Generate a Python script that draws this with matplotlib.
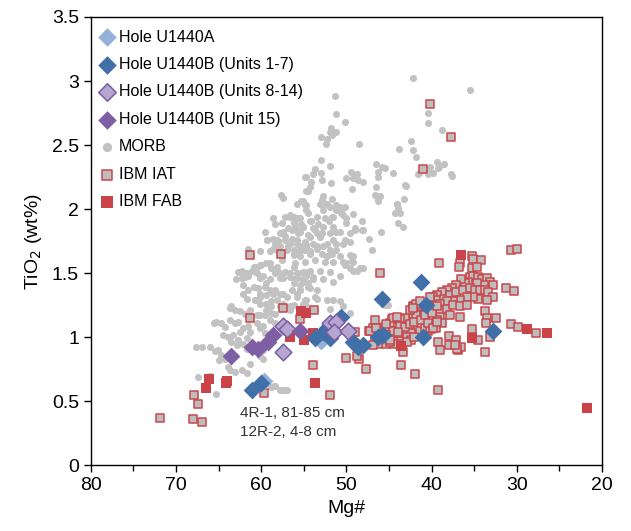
import matplotlib
matplotlib.use("Agg")
import matplotlib.pyplot as plt

plt.rcParams['font.family'] = ['Liberation Sans', 'DejaVu Sans']

# MORB (Mg#, TiO2)
morb_mg = [42.2, 35.5, 51.3, 51.2, 50.2, 51.8, 51.9, 51.7, 51.2, 52.3, 53.0, 52.4, 48.5, 53.0, 51.9, 53.7, 54.8, 53.9, 53.0, 52.9,
           54.1, 54.3, 54.5, 51.8, 55.3, 54.7, 52.9, 52.7, 52.3, 51.7, 50.8, 50.4, 49.5, 50.0, 49.2, 48.8, 48.6, 48.0, 49.4, 46.5,
           46.3, 46.3, 45.8, 45.5, 44.5, 46.5, 46.7, 46.3, 46.1, 43.8, 42.4, 42.2, 41.8, 40.4, 40.4, 38.8, 41.6, 40.6, 40.2, 39.8,
           39.4, 39.2, 38.6, 37.6, 43.0, 43.2, 44.1, 43.9, 39.1, 40.2, 41.4, 40.4, 37.7,
           57.7, 57.4, 54.7, 52.7, 51.2, 50.6, 50.2, 49.2, 48.2, 50.0, 45.9, 44.1, 44.3, 43.9, 43.1,
           59.6, 58.6, 57.4, 56.6, 56.2, 55.8, 55.3, 54.5, 54.1, 53.7, 53.3, 52.9, 52.1, 51.7,
           58.4, 57.8, 57.0, 56.2, 55.5, 54.9, 54.3, 53.5, 52.7, 52.3, 51.7, 51.2, 50.8, 50.0, 49.2, 48.4, 49.2, 50.4, 51.6, 51.2, 47.4, 47.0,
           57.2, 56.6, 56.2, 55.8, 55.1, 55.5, 58.4, 57.6, 57.8, 56.8, 58.0, 58.6, 59.3, 58.1, 57.2, 56.6, 55.8, 56.2, 54.9, 54.3,
           53.9, 53.5, 61.5, 60.2, 59.0,
           62.3, 62.6, 63.0, 61.9, 61.5, 61.1, 60.5, 60.0, 59.4, 58.8, 58.2, 57.8, 57.4, 56.6, 55.8, 55.1, 54.3, 53.9, 54.5, 55.5,
           62.1, 61.5, 60.9, 60.4, 59.6, 59.0, 58.6, 57.8, 57.0, 56.4, 55.8, 54.9, 53.7, 53.5,
           62.1, 61.7, 60.7, 60.2, 59.4, 58.8, 58.2, 57.4, 56.2,
           63.7, 63.1, 62.5, 61.9, 61.3, 60.5, 59.6, 58.4, 56.6,
           63.5, 65.6, 65.3, 64.7, 64.3, 63.7, 63.1, 62.7, 62.1, 62.5, 61.5, 61.3, 60.5, 60.1,
           64.5, 63.9, 63.3, 62.7, 61.7, 62.1, 63.5, 62.9, 61.7,
           67.6, 67.0, 66.0, 65.4, 65.1, 64.7, 64.3, 64.9,
           63.9, 63.7, 63.1, 62.3, 61.7, 59.8,
           67.4, 66.0, 65.3, 58.4, 57.6, 57.0, 58.8, 58.5, 57.8, 57.3,
           60.5, 60.1, 59.8, 59.4, 59.0, 58.4, 57.8, 57.2, 56.6, 56.2, 55.8, 55.1, 54.7, 54.5, 55.5, 57.4, 58.4, 59.4, 60.2, 60.7,
           60.2, 58.8, 57.8, 56.6, 55.1, 59.4, 58.8, 60.2, 59.0, 58.4, 59.8, 59.6, 59.0, 61.3, 60.2, 59.8,
           55.8, 54.9, 54.7, 53.1, 52.7, 51.9, 51.2, 50.6, 50.4, 51.6, 52.5, 53.5, 54.3, 55.5, 56.2, 56.0, 55.1, 53.9, 52.7, 51.6,
           50.0, 49.0, 49.6, 50.8, 51.9, 53.1, 54.5, 55.7, 56.4, 55.8, 54.7, 53.5, 52.3, 51.2, 50.2, 49.6, 51.9, 52.9, 54.3, 55.5,
           56.2, 56.0, 54.9, 53.7, 52.5, 51.6, 50.4, 49.4, 48.4, 50.2, 50.8, 51.9, 53.1, 54.5, 55.7, 56.2, 55.1, 53.9, 52.7, 51.6,
           55.5, 54.3, 55.8, 54.7, 53.5, 52.3, 51.6, 50.8, 50.4, 51.9, 53.7, 54.7, 43.7, 43.3, 46.3, 48.2,
           54.9, 55.1, 58.6, 59.3, 58.2, 57.2, 56.4, 56.8, 58.2, 57.6, 59.0, 60.2, 60.9, 61.7, 62.7, 62.3, 56.2, 55.5, 54.7, 55.1,
           45.5, 45.1, 49.0, 48.0, 49.6, 49.2, 49.6, 48.8, 48.0, 49.6]
morb_ti = [3.02, 2.93, 2.88, 2.74, 2.68, 2.63, 2.60, 2.58, 2.60, 2.55, 2.56, 2.51, 2.51, 2.38, 2.34, 2.31, 2.25, 2.27, 2.28, 2.23,
           2.21, 2.17, 2.14, 2.20, 2.06, 2.03, 2.07, 2.04, 2.04, 2.08, 2.02, 2.01, 2.29, 2.24, 2.24, 2.27, 2.23, 2.21, 2.16, 2.35,
           2.29, 2.25, 2.33, 2.32, 2.28, 2.17, 2.11, 2.08, 2.10, 2.47, 2.53, 2.46, 2.41, 2.75, 2.67, 2.62, 2.27, 2.32, 2.29, 2.28,
           2.37, 2.32, 2.35, 2.26, 2.18, 2.08, 2.04, 2.01, 2.33, 2.33, 2.29, 2.27, 2.27,
           2.11, 2.09, 2.14, 2.10, 1.99, 1.97, 2.02, 1.96, 1.84, 1.93, 1.82, 2.04, 1.97, 1.89, 2.19,
           1.82, 1.77, 1.82, 1.94, 1.89, 1.84, 1.88, 1.97, 1.91, 1.84, 1.88, 1.81, 1.91, 1.94,
           1.73, 1.71, 1.68, 1.65, 1.71, 1.68, 1.67, 1.69, 1.71, 1.63, 1.65, 1.68, 1.63, 1.58, 1.52, 1.54, 1.63, 1.73, 1.76, 1.82, 1.77, 1.68,
           1.94, 1.95, 1.91, 1.93, 1.86, 1.82, 1.88, 1.89, 1.81, 1.85, 1.75, 1.69, 1.76, 1.73, 1.76, 1.73, 1.76, 1.68, 1.74, 1.78,
           1.73, 1.81, 1.69, 1.67, 1.67,
           1.52, 1.51, 1.45, 1.47, 1.48, 1.52, 1.55, 1.56, 1.58, 1.54, 1.55, 1.50, 1.46, 1.50, 1.46, 1.51, 1.52, 1.47, 1.42, 1.41,
           1.41, 1.37, 1.39, 1.38, 1.39, 1.37, 1.34, 1.34, 1.31, 1.37, 1.34, 1.29, 1.31, 1.37,
           1.34, 1.30, 1.29, 1.31, 1.26, 1.24, 1.29, 1.26, 1.25,
           1.23, 1.21, 1.20, 1.18, 1.21, 1.17, 1.17, 1.18, 1.21,
           1.24, 1.11, 1.12, 1.11, 1.08, 1.13, 1.11, 1.12, 1.07, 1.04, 1.09, 1.04, 1.11, 1.07,
           1.02, 1.00, 1.02, 0.98, 0.99, 0.95, 0.96, 0.94, 0.91,
           0.92, 0.92, 0.92, 0.89, 0.90, 0.86, 0.83, 0.82,
           0.77, 0.74, 0.73, 0.74, 0.72, 0.83,
           0.69, 0.70, 0.555, 0.62, 0.59, 0.59, 0.61, 0.62, 0.585, 0.585,
           1.50, 1.46, 1.48, 1.42, 1.45, 1.50, 1.46, 1.51, 1.47, 1.42, 1.50, 1.45, 1.48, 1.39, 1.37, 1.34, 1.37, 1.33, 1.34, 1.29,
           1.26, 1.28, 1.24, 1.24, 1.26, 1.21, 1.19, 1.17, 1.13, 1.11, 1.09, 1.03, 1.02, 0.79, 0.85, 0.90,
           2.04, 2.03, 1.99, 2.04, 1.99, 2.02, 2.03, 1.99, 1.95, 1.94, 1.93, 1.94, 1.91, 1.93, 1.94, 1.86, 1.86, 1.85, 1.86, 1.86,
           1.89, 1.85, 1.81, 1.82, 1.81, 1.78, 1.80, 1.81, 1.77, 1.73, 1.72, 1.71, 1.73, 1.73, 1.76, 1.74, 1.68, 1.65, 1.65, 1.67,
           1.64, 1.58, 1.59, 1.60, 1.59, 1.59, 1.59, 1.60, 1.54, 1.56, 1.48, 1.51, 1.52, 1.51, 1.50, 1.45, 1.43, 1.45, 1.45, 1.43,
           1.37, 1.38, 1.31, 1.29, 1.30, 1.29, 1.29, 1.28, 1.24, 1.22, 1.21, 1.24, 1.97, 1.86, 2.06, 1.91,
           2.25, 2.06, 1.93, 1.76, 1.76, 1.79, 1.84, 1.71, 1.68, 1.60, 1.58, 1.56, 1.55, 1.50, 1.51, 1.46, 1.55, 1.63, 1.71, 1.50,
           1.25, 1.25, 1.84, 1.84, 1.64, 1.59, 1.54, 1.52, 1.54, 1.19]

# IBM IAT
iat_mg = [40.2, 37.7, 41.0,
          61.3, 57.7, 46.1, 57.4, 61.3, 55.5, 53.8, 71.9, 67.9, 67.4, 68.0, 67.0, 59.7, 53.9, 51.9, 48.5, 47.7,
          50.0, 39.2, 42.0, 43.6, 48.8,
          35.2, 35.1, 30.7, 30.0, 39.1, 36.7, 36.8, 34.2, 35.3, 34.7,
          35.5, 35.1, 34.5, 34.1, 33.5, 33.2, 32.8, 33.9, 34.7, 35.7, 36.1, 36.5, 37.1, 37.6, 38.2, 38.8, 39.4, 39.8, 39.2, 38.6,
          37.8, 37.1, 36.3, 35.5, 34.9, 34.3, 33.7, 33.4, 32.8, 33.5, 34.5, 35.1, 35.9, 36.7, 37.5, 38.2, 39.0, 39.8, 40.2, 40.6,
          41.0, 41.4, 42.0, 42.4, 41.8, 41.2, 39.0, 38.2, 37.5, 36.7, 35.9, 37.8, 36.7, 39.0, 39.4, 38.8, 40.0, 40.4, 41.0,
          33.7, 33.5, 32.4, 33.6, 33.2, 31.3, 30.3, 30.7, 29.9, 27.7,
          35.2, 34.6, 33.7, 38.0, 37.1, 38.0, 36.9, 36.5, 39.3, 39.0, 40.1, 39.5,
          43.7, 43.5, 44.5, 42.5, 43.3,
          46.7, 46.9, 47.4, 45.5, 44.7, 43.9, 44.9, 44.5, 43.7, 42.9, 42.4, 46.1, 45.3, 44.5, 45.3, 46.3, 42.9, 42.4, 41.4, 42.2,
          41.8, 42.5, 42.2, 41.8, 37.0, 37.3, 40.8, 40.2,
          41.4, 42.2, 43.1, 43.7, 44.5, 45.3, 43.7, 43.1, 42.5, 42.1, 41.2, 40.8, 40.4, 39.8, 39.4, 40.0, 39.4, 40.2, 46.7, 44.9,
          42.9, 42.1, 44.9, 44.1, 43.9, 46.9, 49.0, 47.2, 46.5]
iat_ti = [2.82, 2.56, 2.31,
          1.64, 1.65, 1.50, 1.23, 1.15, 1.14, 1.21, 0.365, 0.55, 0.48, 0.36, 0.34, 0.565, 0.78, 0.55, 0.83, 0.75,
          0.84, 0.585, 0.71, 0.78, 0.85,
          1.63, 1.61, 1.68, 1.69, 1.58, 1.58, 1.55, 1.60, 1.54, 1.55,
          1.47, 1.48, 1.47, 1.45, 1.46, 1.43, 1.41, 1.41, 1.42, 1.43, 1.42, 1.45, 1.41, 1.38, 1.37, 1.35, 1.33, 1.31, 1.29, 1.30,
          1.33, 1.35, 1.37, 1.38, 1.37, 1.37, 1.37, 1.35, 1.31, 1.29, 1.30, 1.31, 1.31, 1.29, 1.28, 1.28, 1.26, 1.24, 1.21, 1.20,
          1.17, 1.16, 1.16, 1.17, 1.21, 1.24, 1.21, 1.22, 1.25, 1.24, 1.25, 1.17, 1.16, 1.16, 1.13, 1.11, 1.08, 1.05, 1.05,
          1.20, 1.15, 1.15, 1.11, 1.00, 1.38, 1.36, 1.10, 1.08, 1.03,
          1.06, 0.98, 0.88, 1.01, 0.98, 0.94, 0.90, 0.92, 0.96, 0.90, 1.06, 1.07,
          0.99, 0.945, 0.97, 1.03, 0.885,
          1.13, 1.07, 1.05, 1.08, 1.14, 1.14, 1.11, 1.05, 1.03, 1.05, 1.03, 0.99, 1.02, 0.95, 0.95, 0.95, 1.00, 0.98, 1.05, 1.15,
          1.17, 1.21, 1.24, 1.26, 0.91, 0.94, 1.07, 1.07,
          1.28, 1.23, 1.15, 1.14, 1.15, 1.10, 1.09, 1.08, 1.10, 1.12, 1.13, 1.17, 1.11, 1.07, 1.12, 1.19, 1.24, 1.31, 0.98, 0.96,
          0.96, 1.00, 0.98, 1.16, 1.04, 0.94, 1.04, 1.05, 1.07]

# IBM FAB
fab_mg = [66.1, 66.5, 64.0, 64.1, 55.3, 54.8, 56.6, 55.0, 53.7, 53.9, 36.6, 35.3, 28.8, 26.4, 21.7, 43.6]
fab_ti = [0.67, 0.60, 0.66, 0.64, 1.20, 1.19, 1.00, 0.98, 0.64, 1.03, 1.64, 0.99, 1.06, 1.03, 0.45, 0.93]

# Hole U1440A
a_mg = [53.0, 59.7]
a_ti = [0.97, 0.66]

# Hole U1440B units 1-7
b1_mg = [61.1, 60.0, 53.7, 52.7, 51.9, 50.6, 49.2, 48.6, 48.0, 46.3, 45.7, 45.8, 41.2, 40.7, 41.05, 32.8]
b1_ti = [0.585, 0.64, 0.99, 1.04, 0.99, 1.16, 0.96, 0.92, 0.94, 1.00, 1.02, 1.30, 1.43, 1.25, 1.00, 1.05]

# Hole U1440B units 8-14
b2_mg = [57.4, 57.0, 57.5, 51.9, 51.2, 51.5, 49.8]
b2_ti = [1.09, 1.06, 0.885, 1.11, 1.12, 1.04, 1.05]

# Hole U1440B unit 15
b3_mg = [63.5, 61.1, 60.4, 59.2, 58.6, 55.5]
b3_ti = [0.85, 0.92, 0.91, 0.96, 1.02, 1.05]

fig = plt.figure(figsize=(6.31, 5.31), dpi=100)
ax = fig.add_axes([0.144, 0.124, 0.81, 0.844])

ax.scatter(morb_mg, morb_ti, s=26, marker='o', color='#c2c2c2', linewidths=0, label='MORB', zorder=2)
ax.scatter(iat_mg, iat_ti, s=30, marker='s', facecolor='#bdbdbd', edgecolor='#c9474b', linewidths=1.1,
           label='IBM IAT', zorder=3)
ax.scatter(fab_mg, fab_ti, s=44, marker='s', color='#c94349', linewidths=0, label='IBM FAB', zorder=3)

ax.scatter(a_mg, a_ti, s=82, marker='D', color='#93b2d9', linewidths=0, label='Hole U1440A', zorder=4)
ax.scatter(b1_mg, b1_ti, s=82, marker='D', color='#4170a8', linewidths=0, label='Hole U1440B (Units 1-7)', zorder=4)
ax.scatter(b2_mg, b2_ti, s=72, marker='D', facecolor='#b5a5cf', edgecolor='#7a5ea3', linewidths=1.1,
           label='Hole U1440B (Units 8-14)', zorder=5)
ax.scatter(b3_mg, b3_ti, s=82, marker='D', color='#7f5fa4', linewidths=0, label='Hole U1440B (Unit 15)', zorder=5)

ax.text(62.5, 0.465, '4R-1, 81-85 cm\n12R-2, 4-8 cm', fontsize=11, color='#333333',
        ha='left', va='top', linespacing=1.5)

ax.set_xlim(80, 20)
ax.set_ylim(0, 3.5)
ax.set_xticks([80, 70, 60, 50, 40, 30, 20])
ax.set_xticks([75, 65, 55, 45, 35, 25], minor=True)
ax.set_yticks([0, 0.5, 1, 1.5, 2, 2.5, 3, 3.5])
ax.set_yticklabels(['0', '0.5', '1', '1.5', '2', '2.5', '3', '3.5'])
ax.tick_params(axis='both', which='both', direction='out', labelsize=14, width=1)
ax.tick_params(axis='both', which='major', length=5)
ax.tick_params(axis='x', which='minor', length=4)
for sp in ax.spines.values():
    sp.set_linewidth(1)

ax.set_xlabel('Mg#', fontsize=14, labelpad=4)
ax.set_ylabel('TiO$_2$ (wt%)', fontsize=14, labelpad=6)

handles, labels = ax.get_legend_handles_labels()
order = ['Hole U1440A', 'Hole U1440B (Units 1-7)', 'Hole U1440B (Units 8-14)', 'Hole U1440B (Unit 15)',
         'MORB', 'IBM IAT', 'IBM FAB']
hmap = dict(zip(labels, handles))
leg = ax.legend([hmap[k] for k in order], order, loc='upper left', bbox_to_anchor=(0.017, 0.972),
                frameon=False, fontsize=11.5, handlelength=0.9, handletextpad=0.3, labelspacing=0.78,
                borderpad=0, borderaxespad=0, scatterpoints=1)
# legend symbols are drawn a little larger than the plotted points
legend_sizes = [90, 90, 80, 90, 45, 55, 70]
for h, sz in zip(leg.legend_handles, legend_sizes):
    h.set_sizes([sz])

fig.savefig('out.png', dpi=100)
